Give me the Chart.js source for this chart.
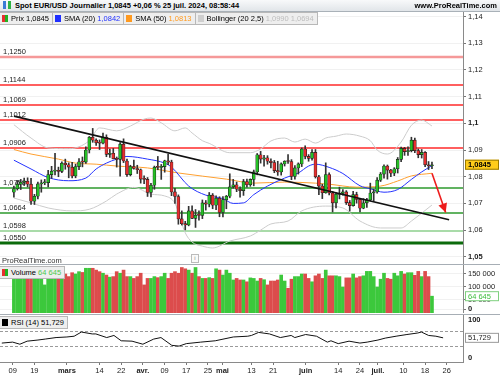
<!DOCTYPE html>
<html>
<head>
<meta charset="utf-8">
<script src="https://cdn.jsdelivr.net/npm/chart.js@4.4.2/dist/chart.umd.min.js"></script>
<style>
  body { margin: 0; background: #fff; font-family: 'Liberation Sans', Arial, sans-serif; }
  #wrap { position: relative; width: 500px; height: 375px; overflow: hidden; background: #fff; }
  #wrap canvas { position: absolute; left: 0; }
  .sep { position: absolute; left: 0; width: 500px; height: 1px; background: #a7aeb5; }
  #top { position: absolute; left: 0; top: 0; width: 500px; height: 11px; background: linear-gradient(#f8f9fa, #e1e5e9);
         border-bottom: 1px solid #a9b1b8; font-size: 7.5px; font-weight: bold; line-height: 11px; white-space: nowrap; }
  #top .logo { display: inline-block; width: 8px; height: 8px; margin: 0 4px 0 3px; vertical-align: -1px;
               background: linear-gradient(90deg, #3a7bd5 0 3px, transparent 3px 5px, #2fb344 5px); }
  #top .site { position: absolute; right: 3px; top: 0; }
  .leg { position: absolute; left: 0; height: 11px; font-size: 7.5px; line-height: 11px; white-space: nowrap; }
  .leg span { display: inline-block; height: 11px; background: #eeeeee; border: 1px solid #b8b8b8; border-left: none; padding: 0 3px 0 2px; }
  .leg em { font-style: normal; }
  .sw { display: inline-block; width: 6px; height: 7px; margin-right: 3px; vertical-align: -1px; }
  .pr { background: linear-gradient(90deg, #e83030 0 3px, #22b322 3px); }
  .wm { position: absolute; left: 2px; top: 256px; font-size: 7.5px; color: #333; }
  .info { position: absolute; left: 191px; top: 254px; width: 6px; height: 7px; border: 1px solid #bbb; font-size: 6px; line-height: 7px; text-align: center; color: #888; background: #fafafa; }
</style>
</head>
<body>
<div id="wrap">
  <canvas id="price" width="500" height="253" style="top:11px;width:500px;height:253px"></canvas>
  <canvas id="vol" width="500" height="48" style="top:265px;width:500px;height:48px"></canvas>
  <canvas id="rsi" width="500" height="60" style="top:315px;width:500px;height:60px"></canvas>
  <div class="sep" style="top:264px"></div>
  <div class="sep" style="top:314px"></div>
  <div id="top"><span class="logo"></span>Spot EUR/USD Journalier 1,0845 +0,06 % 25 juil. 2024, 08:58:44<span class="site">www.ProRealTime.com</span></div>
  <div class="leg" style="top:12px">
    <span><i class="sw pr"></i>Prix 1,0845</span><span><i class="sw" style="background:#1f2fff"></i>SMA (20) <em style="color:#1f2fff">1,0842</em></span><span><i class="sw" style="background:#ff9a1f"></i>SMA (50) <em style="color:#ff9a1f">1,0813</em></span><span><i class="sw" style="background:#cfcfcf"></i>Bollinger (20 2,5) <em style="color:#bdbdbd">1,0990 1,0694</em></span>
  </div>
  <div class="wm">ProRealTime.com</div>
  <div class="info">i</div>
  <div class="leg" style="top:266px"><span><i class="sw pr"></i>Volume <em style="color:#4cc84c">64 645</em></span></div>
  <div class="leg" style="top:316px"><span><i class="sw" style="background:#000"></i>RSI (14) 51,729</span></div>
</div>
<script>
    const FONT = "'Liberation Sans', Arial, sans-serif";

    // trading days, 2024 (last five are empty space on the right)
    const days = [
        '02-06','02-07','02-08','02-09','02-12','02-13','02-14','02-15','02-16','02-19','02-20','02-21','02-22','02-23','02-26','02-27','02-28','02-29',
        '03-01','03-04','03-05','03-06','03-07','03-08','03-11','03-12','03-13','03-14','03-15','03-18','03-19','03-20','03-21','03-22','03-25','03-26','03-27','03-28','03-29',
        '04-01','04-02','04-03','04-04','04-05','04-08','04-09','04-10','04-11','04-12','04-15','04-16','04-17','04-18','04-19','04-22','04-23','04-24','04-25','04-26','04-29','04-30',
        '05-01','05-02','05-03','05-06','05-07','05-08','05-09','05-10','05-13','05-14','05-15','05-16','05-17','05-20','05-21','05-22','05-23','05-24','05-27','05-28','05-29','05-30','05-31',
        '06-03','06-04','06-05','06-06','06-07','06-10','06-11','06-12','06-13','06-14','06-17','06-18','06-19','06-20','06-21','06-24','06-25','06-26','06-27','06-28',
        '07-01','07-02','07-03','07-04','07-05','07-08','07-09','07-10','07-11','07-12','07-15','07-16','07-17','07-18','07-19','07-22','07-23','07-24','07-25',
        '07-26','07-29','07-30','07-31','08-01'
    ];
    const tickDays = ['02-09','02-19','03-01','03-14','03-22','04-01','04-09','04-17','04-25','05-01','05-13','05-21','06-03','06-14','06-24','07-01','07-10','07-18','07-26'];
    const tickText = ['09','19','mars','14','22','avr.','09','17','25','mai','13','21','juin','14','24','juil.','10','18','26'];

    const open = [
        1.0742,1.0755,1.0772,1.0779,1.0783,1.0772,1.0708,1.0727,1.0773,1.0777,
        1.0778,1.0808,1.0821,1.0822,1.0820,1.0851,1.0845,1.0836,1.0803,1.0838,
        1.0856,1.0855,1.0900,1.0948,1.0937,1.0927,1.0926,1.0948,1.0884,1.0888,
        1.0867,1.0865,1.0922,1.0859,1.0808,1.0838,1.0831,1.0826,1.0791,1.0790,
        1.0741,1.0768,1.0836,1.0835,1.0838,1.0860,1.0855,1.0743,1.0726,1.0642,
        1.0624,1.0619,1.0672,1.0644,1.0656,1.0655,1.0702,1.0697,1.0731,1.0693,
        1.0719,1.0666,1.0714,1.0727,1.0762,1.0770,1.0753,1.0748,1.0782,1.0770,
        1.0790,1.0818,1.0882,1.0866,1.0871,1.0858,1.0853,1.0823,1.0818,1.0848,
        1.0858,1.0857,1.0801,1.0833,1.0848,1.0904,1.0876,1.0869,1.0891,1.0800,
        1.0765,1.0740,1.0808,1.0739,1.0702,1.0734,1.0737,1.0743,1.0703,1.0692,
        1.0733,1.0715,1.0682,1.0702,1.0713,1.0739,1.0743,1.0787,1.0810,1.0840,
        1.0825,1.0813,1.0830,1.0865,1.0906,1.0894,1.0898,1.0937,1.0898,1.0883,
        1.0891,1.0845,1.0841
    ];
    const high = [
        1.0765,1.0786,1.0790,1.0795,1.0796,1.0794,1.0734,1.0780,1.0788,1.0790,
        1.0824,1.0839,1.0888,1.0836,1.0856,1.0866,1.0852,1.0854,1.0847,1.0868,
        1.0874,1.0912,1.0951,1.0981,1.0942,1.0938,1.0964,1.0957,1.0904,1.0906,
        1.0874,1.0928,1.0942,1.0866,1.0843,1.0862,1.0843,1.0829,1.0803,1.0797,
        1.0775,1.0840,1.0876,1.0846,1.0862,1.0885,1.0862,1.0757,1.0732,1.0672,
        1.0633,1.0689,1.0691,1.0677,1.0672,1.0713,1.0711,1.0741,1.0737,1.0728,
        1.0725,1.0726,1.0730,1.0811,1.0790,1.0780,1.0762,1.0790,1.0791,1.0792,
        1.0825,1.0887,1.0895,1.0880,1.0879,1.0867,1.0861,1.0858,1.0852,1.0860,
        1.0883,1.0864,1.0842,1.0852,1.0908,1.0916,1.0883,1.0902,1.0902,1.0805,
        1.0772,1.0852,1.0815,1.0745,1.0740,1.0761,1.0752,1.0748,1.0711,1.0745,
        1.0742,1.0718,1.0718,1.0719,1.0776,1.0753,1.0797,1.0816,1.0845,1.0844,
        1.0828,1.0834,1.0872,1.0911,1.0910,1.0912,1.0948,1.0945,1.0904,1.0902,
        1.0894,1.0857,1.0855
    ];
    const low = [
        1.0723,1.0750,1.0752,1.0767,1.0762,1.0696,1.0696,1.0717,1.0742,1.0770,
        1.0762,1.0794,1.0807,1.0800,1.0815,1.0828,1.0796,1.0796,1.0796,1.0826,
        1.0837,1.0850,1.0889,1.0929,1.0917,1.0902,1.0923,1.0875,1.0872,1.0867,
        1.0836,1.0802,1.0853,1.0801,1.0803,1.0828,1.0812,1.0776,1.0774,1.0726,
        1.0724,1.0753,1.0826,1.0790,1.0817,1.0845,1.0729,1.0700,1.0622,1.0619,
        1.0601,1.0616,1.0643,1.0610,1.0637,1.0643,1.0675,1.0687,1.0680,1.0677,
        1.0650,1.0649,1.0680,1.0721,1.0757,1.0744,1.0723,1.0730,1.0761,1.0764,
        1.0766,1.0807,1.0851,1.0840,1.0847,1.0833,1.0815,1.0805,1.0806,1.0840,
        1.0850,1.0789,1.0791,1.0810,1.0838,1.0867,1.0858,1.0862,1.0795,1.0733,
        1.0718,1.0738,1.0732,1.0668,1.0683,1.0717,1.0731,1.0696,1.0671,1.0690,
        1.0701,1.0668,1.0680,1.0685,1.0710,1.0709,1.0738,1.0782,1.0795,1.0791,
        1.0800,1.0804,1.0814,1.0856,1.0880,1.0880,1.0893,1.0890,1.0871,1.0870,
        1.0838,1.0827,1.0830
    ];
    const close = [
        1.0755,1.0772,1.0779,1.0783,1.0772,1.0708,1.0727,1.0773,1.0777,1.0778,
        1.0808,1.0821,1.0822,1.0820,1.0851,1.0845,1.0836,1.0803,1.0838,1.0856,
        1.0855,1.0900,1.0948,1.0937,1.0927,1.0926,1.0948,1.0884,1.0888,1.0867,
        1.0865,1.0922,1.0859,1.0808,1.0838,1.0831,1.0826,1.0791,1.0790,1.0741,
        1.0768,1.0836,1.0835,1.0838,1.0860,1.0855,1.0743,1.0726,1.0642,1.0624,
        1.0619,1.0672,1.0644,1.0656,1.0655,1.0702,1.0697,1.0731,1.0693,1.0719,
        1.0666,1.0714,1.0727,1.0762,1.0770,1.0753,1.0748,1.0782,1.0770,1.0790,
        1.0818,1.0882,1.0866,1.0871,1.0858,1.0853,1.0823,1.0818,1.0848,1.0858,
        1.0857,1.0801,1.0833,1.0848,1.0904,1.0876,1.0869,1.0891,1.0800,1.0765,
        1.0740,1.0808,1.0739,1.0702,1.0734,1.0737,1.0743,1.0703,1.0692,1.0733,
        1.0715,1.0682,1.0702,1.0713,1.0739,1.0743,1.0787,1.0810,1.0840,1.0825,
        1.0813,1.0830,1.0865,1.0906,1.0894,1.0898,1.0937,1.0898,1.0883,1.0891,
        1.0845,1.0841,1.0845
    ];
    const volume = [
        150000,140000,135000,150000,145000,170000,150000,155000,150000,108000,
        150000,155000,165000,150000,145000,150000,140000,155000,150000,159000,
        156000,172000,172000,172000,165000,159000,153000,146000,138000,140000,
        159000,153000,165000,140000,140000,133000,140000,153000,108000,133000,
        133000,140000,136000,140000,153000,133000,153000,159000,153000,175000,
        170000,165000,153000,175000,140000,133000,133000,136000,133000,170000,
        165000,146000,165000,153000,127000,133000,127000,127000,120000,135000,
        133000,123000,133000,128000,108000,123000,123000,127000,146000,123000,
        95000,130000,140000,140000,150000,150000,133000,120000,143000,150000,
        133000,165000,143000,143000,143000,140000,100000,135000,135000,150000,
        135000,140000,143000,160000,160000,140000,100000,130000,153000,133000,
        130000,153000,143000,160000,150000,155000,155000,145000,160000,140000,
        160000,140000,64645
    ];

    // indicator lines: [day, value]
    const sma20 = [['02-06',1.0862],['02-13',1.0829],['02-20',1.0797],['02-28',1.0785],['03-06',1.0795],['03-11',1.0829],['03-14',1.0851],
        ['03-19',1.0866],['03-22',1.0876],['04-01',1.0866],['04-08',1.0851],['04-10',1.0836],['04-17',1.0765],['04-24',1.0731],['05-01',1.0718],
        ['05-06',1.0700],['05-09',1.0702],['05-14',1.0733],['05-20',1.0765],['05-27',1.0795],['05-31',1.0814],['06-05',1.0840],['06-07',1.0847],
        ['06-13',1.0835],['06-19',1.0812],['06-26',1.0766],['07-01',1.0755],['07-05',1.0742],['07-11',1.0752],['07-17',1.0790],['07-22',1.0818],['07-25',1.0842]];
    const sma50 = [['02-06',1.0902],['02-13',1.0885],['02-23',1.0866],['03-01',1.0851],['03-11',1.0847],['03-19',1.0840],['04-01',1.0833],
        ['04-12',1.0814],['05-02',1.0791],['05-14',1.0776],['05-27',1.0780],['06-07',1.0776],['06-13',1.0772],['06-25',1.0761],['07-04',1.0765],
        ['07-11',1.0784],['07-17',1.0803],['07-25',1.0813]];
    const bollUp = [['02-06',1.0995],['02-13',1.0945],['02-20',1.0908],['02-28',1.0905],['03-07',1.0935],['03-12',1.0983],['03-19',1.0972],
        ['03-25',1.0990],['03-29',1.1016],['04-02',1.1020],['04-05',1.1002],['04-11',1.0972],['04-16',1.0983],['04-18',1.0964],['04-23',1.0935],
        ['04-25',1.0925],['05-03',1.0890],['05-13',1.0890],['05-16',1.0904],['05-21',1.0934],['05-27',1.0945],['05-30',1.0930],['06-04',1.0941],
        ['06-07',1.0926],['06-12',1.0945],['06-17',1.0952],['06-20',1.0960],['06-26',1.0952],['07-01',1.0935],['07-03',1.0900],['07-08',1.0885],
        ['07-12',1.0930],['07-17',1.0993],['07-22',1.1012],['07-25',1.0990]];
    const bollLo = [['02-06',1.0720],['02-13',1.0702],['02-20',1.0683],['02-29',1.0672],['03-07',1.0678],['03-14',1.0709],['03-19',1.0735],
        ['03-26',1.0760],['04-02',1.0735],['04-08',1.0728],['04-11',1.0700],['04-16',1.0590],['04-18',1.0555],['04-23',1.0540],['04-26',1.0533],
        ['05-03',1.0559],['05-13',1.0578],['05-16',1.0600],['05-21',1.0623],['05-28',1.0634],['06-03',1.0672],['06-12',1.0690],['06-19',1.0683],
        ['06-26',1.0634],['07-04',1.0608],['07-12',1.0608],['07-17',1.0634],['07-25',1.0694]];
    const rsi = [['02-06',38],['02-09',40.5],['02-13',35],['02-15',43],['02-20',46],['02-22',48.5],['02-27',52.5],['03-01',54],['03-05',56],
        ['03-07',67],['03-12',62],['03-13',62],['03-18',52.5],['03-20',58],['03-22',44],['03-27',43],['04-01',35],['04-04',48.5],['04-08',52.5],
        ['04-11',32],['04-15',30],['04-17',36.5],['04-23',40.5],['04-29',44],['05-06',54],['05-10',56],['05-13',58],['05-15',66],['05-20',62],
        ['05-23',52.5],['05-28',58],['05-29',52.5],['06-03',60.5],['06-06',56],['06-11',40.5],['06-12',44],['06-14',36.5],['06-19',43],['06-24',38],
        ['06-26',40.5],['07-01',46],['07-03',51],['07-08',56],['07-11',60.5],['07-16',64.5],['07-17',67],['07-19',58],['07-23',56],['07-25',51.729]];

    // drawn objects
    const levels = [1.1250, 1.1144, 1.1069, 1.1012, 1.0906, 1.0758, 1.0664, 1.0598, 1.0550];
    const levelText = ['1,1250', '1,1144', '1,1069', '1,1012', '1,0906', '1,0758', '1,0664', '1,0598', '1,0550'];
    const trend = [['02-06', 1.1027], ['08-01', 1.0639]];
    const arrow = [['07-25', 1.0813], ['07-31', 1.0666]];

    const priceTicks = [1.05, 1.06, 1.07, 1.08, 1.09, 1.10, 1.11, 1.12, 1.13, 1.14];
    const priceTickText = ['1,05', '1,06', '1,07', '1,08', '1,09', '1,1', '1,11', '1,12', '1,13', '1,14'];
    const volTicks = [0, 50000, 100000, 150000];
    const volTickText = ['0', '50 000', '100 000', '150 000'];
    const rsiTicks = [0, 100];
    const rsiGuides = [30, 70];
    const lastPrice = 1.0845, lastVolume = 64645, lastRsi = 51.729;

    // ---------- helpers ----------
    const GREEN = '#25c025', RED = '#e62e2e';
    const ids = close.map((_, i) => i);
    const isUp = i => close[i] >= open[i];
    const pts = a => a.map(([d, v]) => ({ x: days.indexOf(d), y: v }));
    const font = (size, bold) => ({ family: FONT, size: size, weight: bold ? 'bold' : 'normal' });

    function xAxis(show) {
        return {
            type: 'linear', min: -0.5, max: days.length - 0.5, display: show,
            afterBuildTicks: s => { s.ticks = tickDays.map(d => ({ value: days.indexOf(d) })); },
            afterFit: s => {
                if (!show) return;
                s.height = 13; s.paddingLeft = 0; s.paddingRight = 0;
            },
            ticks: {
                autoSkip: false, maxRotation: 0, padding: 1, color: '#222',
                font: c => font(7.5, /[a-z]/.test(tickText[c.index] || '')),
                callback: (v, i) => tickText[i]
            },
            grid: { drawOnChartArea: false, tickLength: 3, color: '#777' },
            border: { color: '#8a8a8a' }
        };
    }

    function yAxis(min, max, values, texts, boldTest) {
        return {
            position: 'right', min: min, max: max,
            afterBuildTicks: s => { s.ticks = values.map(v => ({ value: v })); },
            afterFit: s => { s.width = 37; s.paddingTop = 0; s.paddingBottom = 0; },
            ticks: {
                autoSkip: false, padding: 2, color: '#222',
                font: c => font(7.5, boldTest(c.index)),
                callback: (v, i) => texts[i]
            },
            grid: { color: '#f1f1f1', tickColor: '#777', tickLength: 3 },
            border: { color: '#8a8a8a' }
        };
    }

    function tag(chart, value, text, fill, stroke, color, bold) {
        const ctx = chart.ctx;
        const y = chart.scales.y.getPixelForValue(value);
        const x = chart.chartArea.right + 2;
        ctx.save();
        ctx.fillStyle = fill;
        ctx.strokeStyle = stroke;
        ctx.lineWidth = 1;
        ctx.fillRect(x, y - 5, 34, 10);
        ctx.strokeRect(x + 0.5, y - 4.5, 33, 9);
        ctx.fillStyle = color;
        ctx.font = (bold ? 'bold ' : '') + '7.5px ' + FONT;
        ctx.textBaseline = 'middle';
        ctx.fillText(text, x + 3, y + 0.5);
        ctx.restore();
    }

    const base = {
        responsive: false, maintainAspectRatio: false, animation: false, events: [],
        layout: { padding: 0 },
        plugins: { legend: { display: false }, tooltip: { enabled: false } }
    };

    // ---------- price pane ----------
    const levelStyle = [
        ['rgba(236,70,70,0.55)', 2.4], ['#ff2a2a', 1.3], ['#ff2a2a', 1.3], ['#ff2a2a', 1.3], ['#ff2a2a', 1.3],
        ['#2c9a2c', 1.3], ['#2c9a2c', 1.3], ['#a9dba9', 2], ['#0b6b0b', 3]
    ];
    const levelPlugin = {
        id: 'levels',
        beforeDatasetsDraw(chart) {
            const { ctx, chartArea: a, scales: { y } } = chart;
            ctx.save();
            levels.forEach((v, i) => {
                const py = Math.round(y.getPixelForValue(v));
                ctx.strokeStyle = levelStyle[i][0];
                ctx.lineWidth = levelStyle[i][1];
                ctx.beginPath(); ctx.moveTo(a.left, py); ctx.lineTo(a.right, py); ctx.stroke();
                ctx.fillStyle = '#222';
                ctx.font = '7.5px ' + FONT;
                ctx.textBaseline = 'alphabetic';
                ctx.fillText(levelText[i], 3, py - 3);
            });
            ctx.restore();
        },
        afterDatasetsDraw(chart) {
            const { ctx, scales: { x, y } } = chart;
            const p = pts(arrow);
            const x0 = x.getPixelForValue(p[0].x), y0 = y.getPixelForValue(p[0].y);
            const x1 = x.getPixelForValue(p[1].x), y1 = y.getPixelForValue(p[1].y);
            const ang = Math.atan2(y1 - y0, x1 - x0);
            ctx.save();
            ctx.fillStyle = '#ee1c1c';
            ctx.beginPath();
            ctx.moveTo(x1, y1);
            ctx.lineTo(x1 - 9 * Math.cos(ang) + 4.5 * Math.sin(ang), y1 - 9 * Math.sin(ang) - 4.5 * Math.cos(ang));
            ctx.lineTo(x1 - 9 * Math.cos(ang) - 4.5 * Math.sin(ang), y1 - 9 * Math.sin(ang) + 4.5 * Math.cos(ang));
            ctx.closePath(); ctx.fill();
            ctx.restore();
        },
        afterDraw(chart) {
            tag(chart, lastPrice, '1,0845', '#ffcc1a', '#9a7a00', '#000', true);
        }
    };

    const line = (data, color, width) => ({
        type: 'line', data: pts(data), borderColor: color, borderWidth: width,
        pointRadius: 0, cubicInterpolationMode: 'monotone', tension: 0.4
    });

    new Chart(document.getElementById('price'), {
        type: 'bar',
        data: {
            datasets: [
                { type: 'line', data: pts(trend), borderColor: '#111', borderWidth: 1.6, pointRadius: 0 },
                { type: 'line', data: pts(arrow), borderColor: '#ee1c1c', borderWidth: 1.6, pointRadius: 0 },
                {
                    data: ids.map(i => ({ x: i, y: [open[i], close[i]] })),
                    backgroundColor: ids.map(i => isUp(i) ? GREEN : RED),
                    borderColor: '#1e1e1e', borderWidth: 0.6, borderSkipped: false,
                    barThickness: 3, minBarLength: 1, grouped: false
                },
                {
                    data: ids.map(i => ({ x: i, y: [low[i], high[i]] })),
                    backgroundColor: '#333', barThickness: 1, grouped: false
                },
                line(sma20, '#2433ff', 1),
                line(sma50, '#ffa030', 1),
                line(bollUp, '#cccccc', 1),
                line(bollLo, '#cccccc', 1)
            ]
        },
        options: {
            ...base,
            scales: {
                x: xAxis(false),
                y: yAxis(1.0473, 1.1421, priceTicks, priceTickText, i => i === 0 || i === 5)
            }
        },
        plugins: [levelPlugin]
    });

    // ---------- volume pane ----------
    new Chart(document.getElementById('vol'), {
        type: 'bar',
        data: {
            datasets: [{
                data: ids.map(i => ({ x: i, y: volume[i] })),
                backgroundColor: ids.map(i => isUp(i) ? '#3cc83c' : '#dc4c4c'),
                barThickness: 3, grouped: false
            }]
        },
        options: {
            ...base,
            scales: {
                x: xAxis(false),
                y: (() => {
                    const ax = yAxis(0, 184600, volTicks, volTickText, i => i === 0);
                    // keep the zero label inside the pane, as the platform does
                    ax.afterBuildTicks = s => { s.ticks = volTicks.map(v => ({ value: Math.max(v, 15000) })); };
                    return ax;
                })()
            }
        },
        plugins: [{
            id: 'volTag',
            afterDraw(chart) { tag(chart, lastVolume, '64 645', '#ffffff', '#7fd07f', '#3cbc3c', false); }
        }]
    });

    // ---------- RSI pane ----------
    new Chart(document.getElementById('rsi'), {
        type: 'line',
        data: {
            datasets: [{ data: pts(rsi), borderColor: '#111', borderWidth: 1, pointRadius: 0, tension: 0 }]
        },
        options: {
            ...base,
            scales: {
                x: xAxis(true),
                y: (() => {
                    const ax = yAxis(-11.8, 111.8, rsiTicks, ['0', '100'], () => true);
                    ax.grid = { display: false, tickColor: '#777', tickLength: 3 };
                    return ax;
                })()
            }
        },
        plugins: [{
            id: 'rsiGuides',
            beforeDatasetsDraw(chart) {
                const { ctx, chartArea: a, scales: { y } } = chart;
                ctx.save();
                ctx.strokeStyle = '#9a9a9a';
                ctx.lineWidth = 1;
                ctx.setLineDash([3, 2]);
                rsiGuides.forEach(v => {
                    const py = Math.round(y.getPixelForValue(v)) + 0.5;
                    ctx.beginPath(); ctx.moveTo(a.left, py); ctx.lineTo(a.right, py); ctx.stroke();
                });
                ctx.restore();
            },
            afterDraw(chart) { tag(chart, lastRsi, '51,729', '#ffffff', '#999', '#222', false); }
        }]
    });
</script>
</body>
</html>
